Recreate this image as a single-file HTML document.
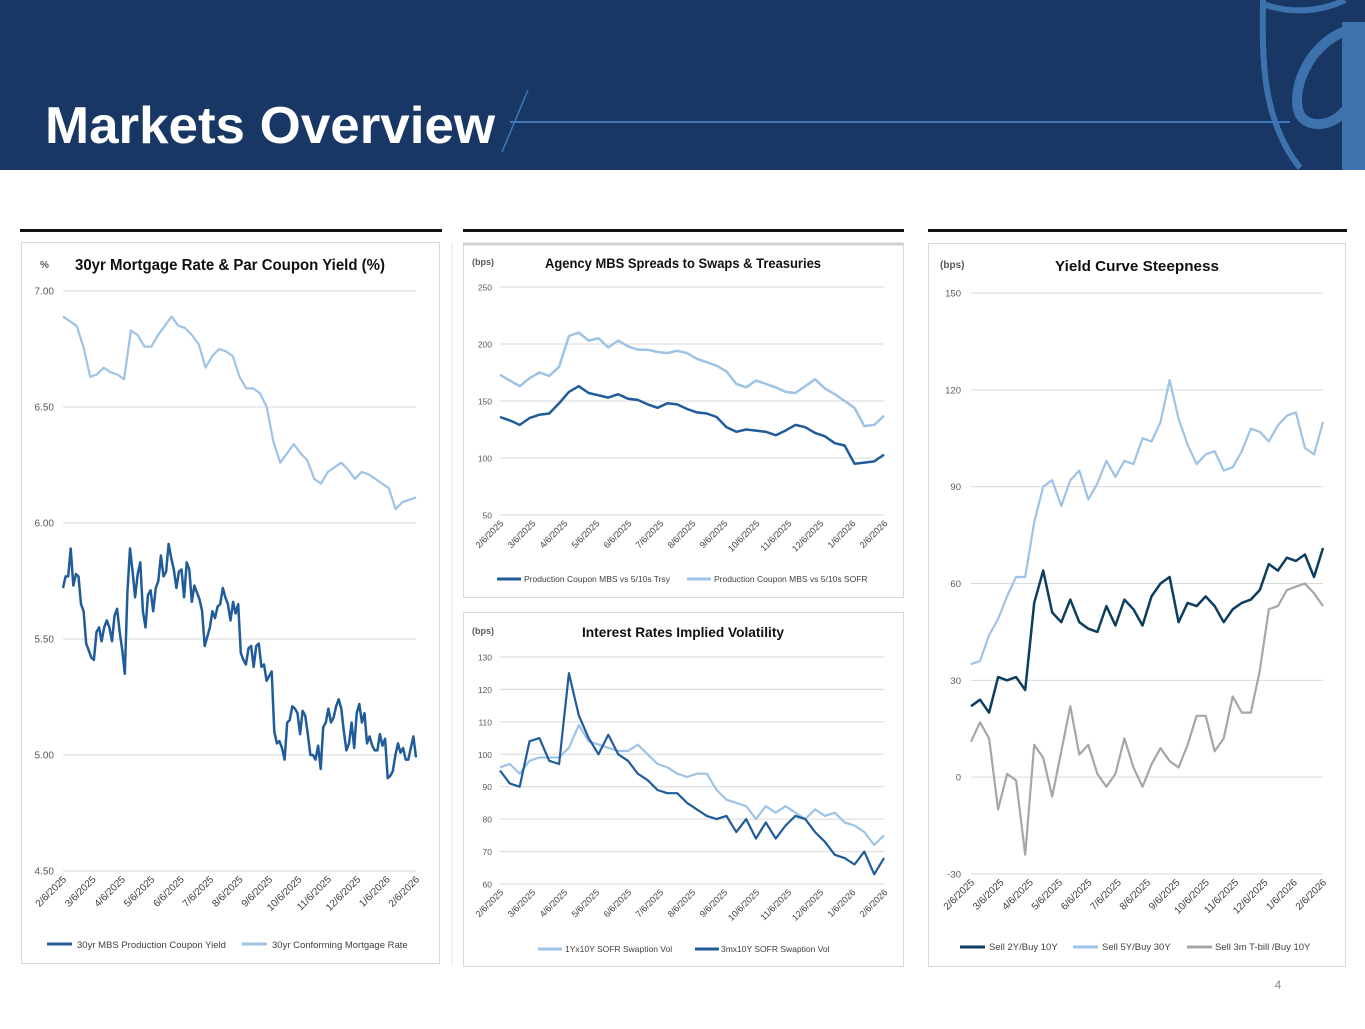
<!DOCTYPE html>
<html><head><meta charset="utf-8">
<style>
html,body{margin:0;padding:0;background:#fff;}
body{width:1365px;height:1024px;overflow:hidden;font-family:"Liberation Sans",sans-serif;}
svg text{font-family:"Liberation Sans",sans-serif;}
</style></head>
<body>
<svg id="page" width="1365" height="1024" viewBox="0 0 1365 1024" xmlns="http://www.w3.org/2000/svg">
  <rect x="0" y="0" width="1365" height="170" fill="#183764"/>
  <g fill="none" stroke="#3d72ad" stroke-width="6">
    <path d="M1263,0 C1262,60 1262,120 1300,168"/>
    <path d="M1263,4 C1290,14 1320,12 1345,0"/>
    <path d="M1348,30 C1305,45 1290,95 1300,115 C1310,130 1335,125 1345,110" stroke-width="10"/>
  </g>
  <rect x="1342" y="22" width="23" height="148" fill="#3d72ad"/>
  <text x="45" y="143" font-size="52" font-weight="bold" fill="#ffffff" textLength="450" lengthAdjust="spacingAndGlyphs">Markets Overview</text>
  <line x1="528" y1="90" x2="502" y2="152" stroke="#3f77b8" stroke-width="1.5"/>
  <line x1="510" y1="122" x2="1290" y2="122" stroke="#3f77b8" stroke-width="2"/>

  <rect x="20" y="229" width="422" height="3" fill="#111"/>
  <rect x="463" y="229" width="441" height="3" fill="#111"/>
  <rect x="928" y="229" width="419" height="3" fill="#111"/>
  <line x1="452" y1="242" x2="452" y2="964" stroke="#e3e3e3" stroke-width="1"/>

  <rect x="21.5" y="242.5" width="418" height="721" fill="#fff" stroke="#d9d9d9"/>
  <rect x="463.5" y="243.5" width="440" height="354" fill="#fff" stroke="#d9d9d9"/>
  <line x1="463" y1="244" x2="904" y2="244" stroke="#cfcfcf" stroke-width="3"/>
  <rect x="463.5" y="612.5" width="440" height="354" fill="#fff" stroke="#d9d9d9"/>
  <rect x="928.5" y="243.5" width="417" height="723" fill="#fff" stroke="#d9d9d9"/>

  <text x="40" y="268" font-size="10" font-weight="bold" fill="#595959">%</text>
  <text x="230" y="270" font-size="15.5" font-weight="bold" fill="#111" text-anchor="middle" textLength="310" lengthAdjust="spacingAndGlyphs">30yr Mortgage Rate &amp; Par Coupon Yield (%)</text>
  <text x="472" y="265" font-size="9" font-weight="bold" fill="#595959">(bps)</text>
  <text x="683" y="268" font-size="14" font-weight="bold" fill="#111" text-anchor="middle" textLength="276" lengthAdjust="spacingAndGlyphs">Agency MBS Spreads to Swaps &amp; Treasuries</text>
  <text x="472" y="634" font-size="9" font-weight="bold" fill="#595959">(bps)</text>
  <text x="683" y="637" font-size="14" font-weight="bold" fill="#111" text-anchor="middle" textLength="202" lengthAdjust="spacingAndGlyphs">Interest Rates Implied Volatility</text>
  <text x="940" y="268" font-size="10" font-weight="bold" fill="#595959">(bps)</text>
  <text x="1137" y="271" font-size="15" font-weight="bold" fill="#111" text-anchor="middle" textLength="164" lengthAdjust="spacingAndGlyphs">Yield Curve Steepness</text>

  <g id="charts"></g>
  <g id="legends" font-size="9.5" fill="#404040">
    <line x1="47" y1="944" x2="72" y2="944" stroke="#1f5c99" stroke-width="3"/>
    <text x="77" y="948">30yr MBS Production Coupon Yield</text>
    <line x1="242" y1="944" x2="267" y2="944" stroke="#9dc3e6" stroke-width="3"/>
    <text x="272" y="948">30yr Conforming Mortgage Rate</text>
    <line x1="497" y1="579" x2="521" y2="579" stroke="#1f5c99" stroke-width="3"/>
    <text x="524" y="582" font-size="8.5">Production Coupon MBS vs 5/10s Trsy</text>
    <line x1="687" y1="579" x2="711" y2="579" stroke="#9dc3e6" stroke-width="3"/>
    <text x="714" y="582" font-size="8.5">Production Coupon MBS vs 5/10s SOFR</text>
    <line x1="538" y1="949" x2="562" y2="949" stroke="#9dc3e6" stroke-width="3"/>
    <text x="565" y="952" font-size="8.5">1Yx10Y SOFR Swaption Vol</text>
    <line x1="695" y1="949" x2="719" y2="949" stroke="#1f5c99" stroke-width="3"/>
    <text x="721" y="952" font-size="8.5">3mx10Y SOFR Swaption Vol</text>
    <line x1="960" y1="947" x2="985" y2="947" stroke="#0d3e5e" stroke-width="3"/>
    <text x="989" y="950">Sell 2Y/Buy 10Y</text>
    <line x1="1073" y1="947" x2="1098" y2="947" stroke="#9dc3e6" stroke-width="3"/>
    <text x="1102" y="950">Sell 5Y/Buy 30Y</text>
    <line x1="1187" y1="947" x2="1212" y2="947" stroke="#a6a6a6" stroke-width="3"/>
    <text x="1215" y="950">Sell 3m T-bill /Buy 10Y</text>
  </g>
  <text x="1278" y="989" font-size="12" fill="#8c8c8c" text-anchor="middle">4</text>
</svg>
<script>
const dateLabels = ["2/6/2025","3/6/2025","4/6/2025","5/6/2025","6/6/2025","7/6/2025","8/6/2025","9/6/2025","10/6/2025","11/6/2025","12/6/2025","1/6/2026","2/6/2026"];

const c1Ticks = [7.00,6.50,6.00,5.50,5.00,4.50];
const c1MortgageRate = [6.89,6.87,6.85,6.76,6.63,6.64,6.67,6.65,6.64,6.62,6.83,6.81,6.76,6.76,6.81,6.85,6.89,6.85,6.84,6.81,6.77,6.67,6.72,6.75,6.74,6.72,6.63,6.58,6.58,6.56,6.50,6.35,6.26,6.30,6.34,6.30,6.27,6.19,6.17,6.22,6.24,6.26,6.23,6.19,6.22,6.21,6.19,6.17,6.15,6.06,6.09,6.10,6.11];
const c1MbsYield = [5.72,5.77,5.77,5.89,5.73,5.78,5.77,5.65,5.62,5.48,5.45,5.42,5.41,5.53,5.55,5.49,5.55,5.58,5.55,5.49,5.60,5.63,5.53,5.45,5.35,5.70,5.89,5.79,5.68,5.78,5.83,5.62,5.55,5.69,5.71,5.62,5.72,5.75,5.86,5.77,5.79,5.91,5.85,5.80,5.72,5.79,5.80,5.68,5.83,5.80,5.66,5.73,5.70,5.67,5.62,5.47,5.51,5.55,5.62,5.59,5.64,5.65,5.72,5.68,5.65,5.58,5.66,5.61,5.65,5.44,5.41,5.39,5.46,5.47,5.38,5.47,5.48,5.38,5.39,5.32,5.34,5.36,5.10,5.05,5.06,5.03,4.98,5.14,5.15,5.21,5.20,5.18,5.09,5.19,5.17,5.09,5.00,5.00,4.98,5.04,4.94,5.12,5.14,5.20,5.14,5.16,5.21,5.24,5.20,5.10,5.02,5.05,5.14,5.03,5.18,5.22,5.14,5.18,5.05,5.08,5.04,5.02,5.02,5.09,5.04,5.07,4.90,4.91,4.93,5.00,5.05,5.01,5.03,4.98,4.98,5.03,5.08,4.99];

const c2Ticks = [250,200,150,100,50];
const c2Trsy = [136,133,129,135,138,139,148,158,163,157,155,153,156,152,151,147,144,148,147,143,140,139,136,127,123,125,124,123,120,124,129,127,122,119,113,111,95,96,97,103];
const c2Sofr = [173,168,163,170,175,172,180,207,210,203,205,197,203,198,195,195,193,192,194,192,187,184,181,176,165,162,168,165,162,158,157,163,169,161,156,150,144,128,129,137];

const c3Ticks = [130,120,110,100,90,80,70,60];
const c3Vol1y = [96,97,94,98,99,99,99,102,109,104,103,102,101,101,103,100,97,96,94,93,94,94,89,86,85,84,80,84,82,84,82,80,83,81,82,79,78,76,72,75];
const c3Vol3m = [95,91,90,104,105,98,97,125,112,105,100,106,100,98,94,92,89,88,88,85,83,81,80,81,76,80,74,79,74,78,81,80,76,73,69,68,66,70,63,68];

const c4Ticks = [150,120,90,60,30,0,-30];
const c4TwoTen = [22,24,20,31,30,31,27,54,64,51,48,55,48,46,45,53,47,55,52,47,56,60,62,48,54,53,56,53,48,52,54,55,58,66,64,68,67,69,62,71];
const c4FiveThirty = [35,36,44,49,56,62,62,79,90,92,84,92,95,86,91,98,93,98,97,105,104,110,123,111,103,97,100,101,95,96,101,108,107,104,109,112,113,102,100,110];
const c4BillTen = [11,17,12,-10,1,-1,-24,10,6,-6,8,22,7,10,1,-3,1,12,3,-3,4,9,5,3,10,19,19,8,12,25,20,20,33,52,53,58,59,60,57,53];

const NS = "http://www.w3.org/2000/svg";
const root = document.getElementById("charts");

function mk(tag, attrs, parent) {
  const el = document.createElementNS(NS, tag);
  for (const k in attrs) el.setAttribute(k, attrs[k]);
  parent.appendChild(el);
  return el;
}

function drawChart(id, cfg) {
  const g = mk("g", {}, root);
  
  
  const yScale = v => cfg.yTop + (cfg.vmax - v) / (cfg.vmax - cfg.vmin) * (cfg.yBot - cfg.yTop);
  const xScale = (i, n) => cfg.x0 + i / (n - 1) * (cfg.x1 - cfg.x0);
  cfg.ticks.forEach(t => {
    const y = yScale(t);
    const ln = mk("line", {x1: cfg.x0, x2: cfg.x1, y1: y, y2: y, stroke: "#d9d9d9", "stroke-width": 1}, g);
    
    
    const tx = mk("text", {x: cfg.tickX, y: y + 3.5, "font-size": cfg.tickSize, fill: "#595959", "text-anchor": "end"}, g);
    tx.textContent = cfg.fmt(t);
    
    
  });
  dateLabels.forEach((d, i) => {
    const x = xScale(i, dateLabels.length) + 4;
    const y = cfg.yBot + 9;
    const tx = mk("text", {x: x, y: y, "font-size": cfg.dateSize, fill: "#404040", "text-anchor": "end",
      transform: "rotate(-45 " + x + " " + y + ")"}, g);
    tx.textContent = d;
    
    
  });
  cfg.series.forEach(s => {
    const pts = s.data.map((v, i) => xScale(i, s.data.length).toFixed(1) + "," + yScale(v).toFixed(1)).join(" ");
    const pl = mk("polyline", {points: pts, fill: "none", stroke: s.color, "stroke-width": s.w, "stroke-linejoin": "round"}, g);
    
    
  });
}

drawChart("chart1", {x0: 63, x1: 416, yTop: 291, yBot: 871, vmin: 4.5, vmax: 7.0, ticks: c1Ticks, tickX: 54, tickSize: 10, dateSize: 10,
  fmt: v => v.toFixed(2),
  series: [{data: c1MortgageRate, color: "#9dc3e6", w: 2.2, name: "series-mortgage-rate"},
           {data: c1MbsYield, color: "#1f5c99", w: 2.5, name: "series-mbs-yield"}]});

drawChart("chart2", {x0: 500, x1: 884, yTop: 287, yBot: 515, vmin: 50, vmax: 250, ticks: c2Ticks, tickX: 492, tickSize: 8.5, dateSize: 9,
  fmt: v => String(v),
  series: [{data: c2Sofr, color: "#9dc3e6", w: 2.5, name: "series-spread-sofr"},
           {data: c2Trsy, color: "#1f5c99", w: 2.5, name: "series-spread-trsy"}]});

drawChart("chart3", {x0: 500, x1: 884, yTop: 657, yBot: 884, vmin: 60, vmax: 130, ticks: c3Ticks, tickX: 492, tickSize: 8.5, dateSize: 9,
  fmt: v => String(v),
  series: [{data: c3Vol1y, color: "#9dc3e6", w: 2.2, name: "series-vol-1y"},
           {data: c3Vol3m, color: "#1f5c99", w: 2.2, name: "series-vol-3m"}]});

drawChart("chart4", {x0: 971, x1: 1323, yTop: 293, yBot: 874, vmin: -30, vmax: 150, ticks: c4Ticks, tickX: 961, tickSize: 9.5, dateSize: 10,
  fmt: v => String(v),
  series: [{data: c4FiveThirty, color: "#9dc3e6", w: 2.2, name: "series-5s30s"},
           {data: c4BillTen, color: "#a6a6a6", w: 2.2, name: "series-3m10y"},
           {data: c4TwoTen, color: "#0d3e5e", w: 2.5, name: "series-2s10s"}]});
</script>
</body></html>
